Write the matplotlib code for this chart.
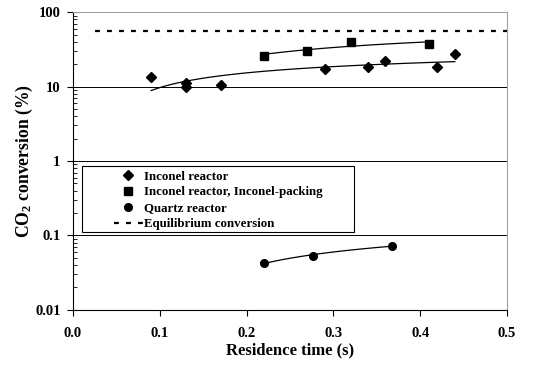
import matplotlib
matplotlib.use("Agg")
import matplotlib.pyplot as plt
import numpy as np
from matplotlib.patches import Rectangle
from matplotlib.ticker import FixedLocator, FuncFormatter, LogLocator, NullFormatter

plt.rcParams['font.family'] = ['Liberation Serif', 'DejaVu Serif']
plt.rcParams['font.weight'] = 'bold'
plt.rcParams['mathtext.fontset'] = 'custom'
plt.rcParams['mathtext.rm'] = 'Liberation Serif:bold'
plt.rcParams['mathtext.default'] = 'rm'

# Inconel reactor
inc_time = [0.09, 0.13, 0.13, 0.17, 0.29, 0.34, 0.36, 0.42, 0.44]
inc_conv = [13.4, 11.0, 9.75, 10.6, 17.2, 18.3, 21.8, 18.1, 27.0]

# Inconel reactor with Inconel packing
pack_time = [0.22, 0.27, 0.32, 0.41]
pack_conv = [25.9, 30.0, 40.0, 37.2]

# Quartz reactor
qtz_time = [0.22, 0.277, 0.368]
qtz_conv = [0.0428, 0.0537, 0.0724]

# equilibrium conversion
eq_time = [0.025, 0.5]
eq_conv = [55, 55]


def log_trend(x, y, n=100):
    # excel-style logarithmic trendline: y = a*ln(x) + b
    a, b = np.polyfit(np.log(x), y, 1)
    xs = np.linspace(min(x), max(x), n)
    return xs, a * np.log(xs) + b


fig = plt.figure(figsize=(5.41, 3.68), dpi=100)
ax = fig.add_axes([0.135, 0.158, 0.802, 0.809])

ax.set_yscale('log')
ax.set_xlim(0, 0.5)
ax.set_ylim(0.01, 100)

for y in [0.1, 1, 10]:
    ax.axhline(y, color='black', lw=0.7, zorder=1)

ax.plot(eq_time, eq_conv, color='black', lw=1.6, ls=(0, (2.2, 3.2)), zorder=2)

for xs, ys in [(inc_time, inc_conv), (pack_time, pack_conv), (qtz_time, qtz_conv)]:
    tx, ty = log_trend(np.array(xs), np.array(ys))
    ax.plot(tx, ty, color='black', lw=0.9, zorder=2)

ax.plot(inc_time, inc_conv, ls='none', marker='D', ms=4.8, color='black', zorder=3,
        label='Inconel reactor')
ax.plot(pack_time, pack_conv, ls='none', marker='s', ms=6, color='black', zorder=3,
        label='Inconel reactor, Inconel-packing')
ax.plot(qtz_time, qtz_conv, ls='none', marker='o', ms=5.5, color='black', zorder=3,
        label='Quartz reactor')
ax.plot([], [], color='black', lw=1.6, ls=(0, (2.2, 3.2)), label='Equilibrium conversion')

ax.xaxis.set_major_locator(FixedLocator([0, 0.1, 0.2, 0.3, 0.4, 0.5]))
ax.xaxis.set_major_formatter(FuncFormatter(lambda v, p: '%.1f' % v))
ax.yaxis.set_major_locator(FixedLocator([0.01, 0.1, 1, 10, 100]))
ax.yaxis.set_major_formatter(FuncFormatter(lambda v, p: '%g' % v))
ax.yaxis.set_minor_locator(LogLocator(base=10, subs=np.arange(2, 10)))
ax.yaxis.set_minor_formatter(NullFormatter())

ax.tick_params(axis='both', which='major', direction='out', length=4, width=0.8,
               labelsize=10.5, pad=5)
ax.tick_params(axis='y', which='minor', direction='in', length=3, width=0.6)
ax.tick_params(axis='x', which='major', pad=8)

for side in ['top', 'right']:
    ax.spines[side].set_color('#a0a0a0')
    ax.spines[side].set_linewidth(0.8)
for side in ['left', 'bottom']:
    ax.spines[side].set_color('black')
    ax.spines[side].set_linewidth(0.8)

ax.set_xlabel('Residence time (s)', fontsize=12, fontweight='bold', labelpad=2)
ax.set_ylabel('CO$_2$ conversion (%)', fontsize=12.7, fontweight='bold', labelpad=0)

# legend box is wider than its content, like the excel original
ax.add_patch(Rectangle((0.0207, 0.262), 0.626, 0.221, transform=ax.transAxes,
                       facecolor='white', edgecolor='black', lw=0.8, zorder=4))
leg = ax.legend(loc='upper left', bbox_to_anchor=(0.095, 0.468), fontsize=9.3,
                frameon=False, borderpad=0, labelspacing=0.3, handlelength=2.2,
                handletextpad=0.1, borderaxespad=0)
leg.set_zorder(5)

fig.savefig('out.png', dpi=100)
